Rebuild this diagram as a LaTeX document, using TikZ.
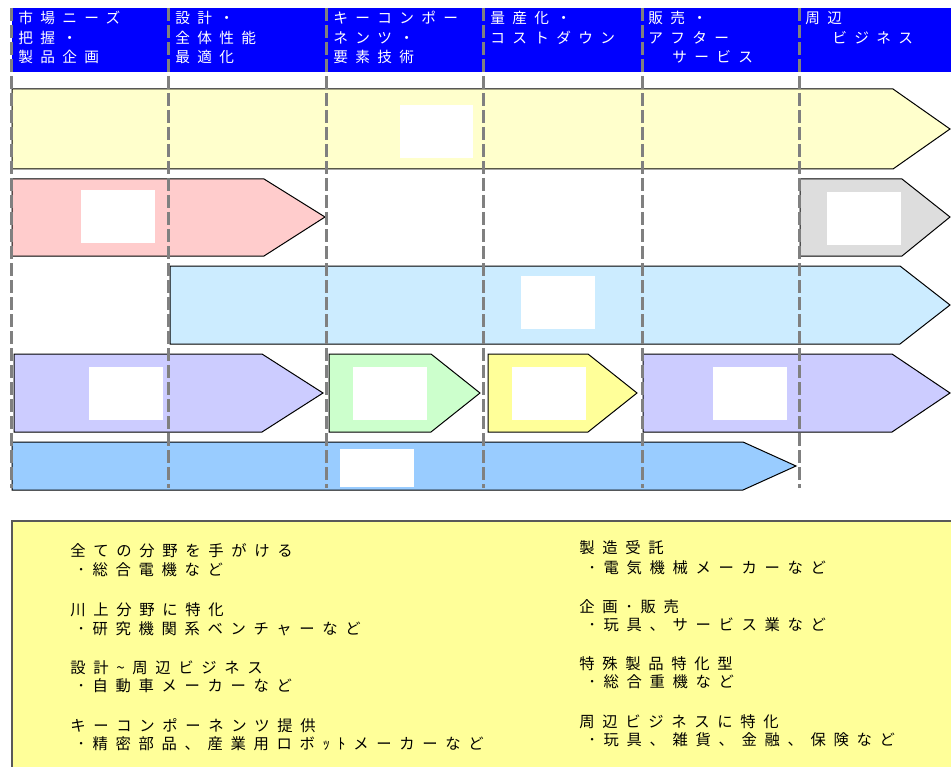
\documentclass[tikz,border=0pt]{standalone}
\usepackage{fontspec}
\newfontfamily\jp[LetterSpace=50]{Noto Sans CJK JP}
\definecolor{hdrblue}{HTML}{0000FF}
\definecolor{cyel}{HTML}{FFFFCC}
\definecolor{cpink}{HTML}{FFCCCC}
\definecolor{cgray}{HTML}{DDDDDD}
\definecolor{clblue}{HTML}{CCECFF}
\definecolor{cpurp}{HTML}{CCCCFF}
\definecolor{cgreen}{HTML}{CCFFCC}
\definecolor{cyel2}{HTML}{FFFF99}
\definecolor{cblue}{HTML}{99CCFF}
\definecolor{dashgray}{HTML}{808080}
\begin{document}
\begin{tikzpicture}[x=0.75pt,y=-0.75pt,
  chev/.style={draw=black,line width=0.75pt,line join=miter},
  hole/.style={fill=white},
  sep/.style={draw=dashgray,line width=2.25pt,dash pattern=on 9.75pt off 3pt},
  hdr/.style={anchor=base west,inner sep=0pt,text=white,font=\jp\fontsize{11}{14}\selectfont},
  note/.style={anchor=base west,inner sep=0pt,text=black,font=\jp\fontsize{11.5}{14}\selectfont}]
\useasboundingbox (0,0) rectangle (951,767);
% header band
\fill[hdrblue] (12,8) rectangle (951,72);
% row 1
\draw[chev,fill=cyel] (12,89) -- (893,89) -- (950,129) -- (893,169) -- (12,169) -- cycle;
\fill[hole] (400,105) rectangle (473,158);
% row 2
\draw[chev,fill=cpink] (12,179) -- (264,179) -- (325,217) -- (264,256) -- (12,256) -- cycle;
\fill[hole] (81,190) rectangle (155,243);
\draw[chev,fill=cgray] (800,179) -- (902,179) -- (950,217) -- (902,256) -- (800,256) -- cycle;
\fill[hole] (827,192) rectangle (901,245);
% row 3
\draw[chev,fill=clblue] (170,266) -- (900,266) -- (950,305) -- (900,344) -- (170,344) -- cycle;
\fill[hole] (521,276) rectangle (595,329);
% row 4
\draw[chev,fill=cpurp] (14,354) -- (262,354) -- (323,393) -- (262,432) -- (14,432) -- cycle;
\fill[hole] (89,367) rectangle (163,420);
\draw[chev,fill=cgreen] (329,354) -- (431,354) -- (480,393) -- (431,432) -- (329,432) -- cycle;
\fill[hole] (353,367) rectangle (427,420);
\draw[chev,fill=cyel2] (488,354) -- (588,354) -- (637,393) -- (588,432) -- (488,432) -- cycle;
\fill[hole] (512,367) rectangle (586,420);
\draw[chev,fill=cpurp] (643,354) -- (892,354) -- (950,393) -- (892,432) -- (643,432) -- cycle;
\fill[hole] (713,367) rectangle (787,420);
% row 5
\draw[chev,fill=cblue] (12,442) -- (743,442) -- (796,466) -- (743,490) -- (12,490) -- cycle;
\fill[hole] (340,449) rectangle (414,487);
% dashed separators
\foreach \xx in {11,168,326,483,642,799}
  \draw[sep] (\xx,8) -- (\xx,488);
% header texts
\node[hdr] (h1a) at (18,24) {市場ニーズ};
\node[hdr] (h1b) at (18,44) {把握・};
\node[hdr] (h1c) at (18,63) {製品企画};
\node[hdr] (h2a) at (175,24) {設計・};
\node[hdr] (h2b) at (175,44) {全体性能};
\node[hdr] (h2c) at (175,63) {最適化};
\node[hdr] (h3a) at (333,24) {キーコンポー};
\node[hdr] (h3b) at (333,44) {ネンツ・};
\node[hdr] (h3c) at (333,63) {要素技術};
\node[hdr] (h4a) at (490,24) {量産化・};
\node[hdr] (h4b) at (490,44) {コストダウン};
\node[hdr] (h5a) at (648,24) {販売・};
\node[hdr] (h5b) at (648,44) {アフター};
\node[hdr] (h5c) at (672,63) {サービス};
\node[hdr] (h6a) at (805,24) {周辺};
\node[hdr] (h6b) at (832,44) {ビジネス};
% bottom legend box
\draw[draw=black!65,line width=1pt,fill=cyel2] (12,521) rectangle (960,780);
\node[note] (l1a) at (70,556) {全ての分野を手がける};
\node[note] (l1b) at (77,575) {･総合電機など};
\node[note] (l2a) at (70,615) {川上分野に特化};
\node[note] (l2b) at (77,634) {･研究機関系ベンチャーなど};
\node[note] (l3a) at (70,673) {設計\textasciitilde 周辺ビジネス};
\node[note] (l3b) at (77,691) {･自動車メーカーなど};
\node[note] (l4a) at (70,731) {キーコンポーネンツ提供};
\node[note] (l4b) at (77,749) {･精密部品、産業用ロボｯﾄメーカーなど};
\node[note] (r1a) at (579,553) {製造受託};
\node[note] (r1b) at (588,573) {･電気機械メーカーなど};
\node[note] (r2a) at (579,612) {企画･販売};
\node[note] (r2b) at (588,630) {･玩具、サービス業など};
\node[note] (r3a) at (579,669) {特殊製品特化型};
\node[note] (r3b) at (588,687) {･総合重機など};
\node[note] (r4a) at (579,727) {周辺ビジネスに特化};
\node[note] (r4b) at (588,745) {･玩具、雑貨、金融、保険など};
\end{tikzpicture}
\end{document}
